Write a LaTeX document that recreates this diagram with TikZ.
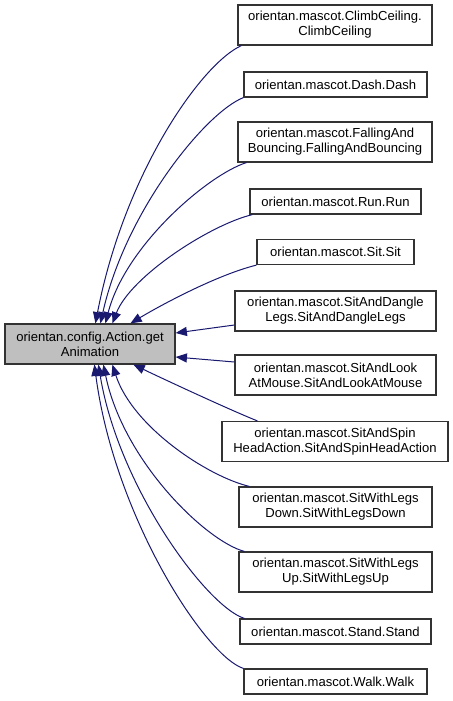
\documentclass[tikz,border=0pt]{standalone}
\usepackage{fontspec}
\setmainfont{Liberation Sans}
\usetikzlibrary{arrows.meta}
\definecolor{midnight}{HTML}{191970}
\begin{document}
\begin{tikzpicture}[x=0.75pt,y=-0.75pt,
  every node/.style={font=\fontsize{9.8pt}{11.3pt}\selectfont},
  cls/.style={draw=black!80,line width=0.9pt,fill=white,align=center,inner sep=0pt,minimum height=30pt},
  onecls/.style={cls,minimum height=18.75pt},
  edge/.style={midnight,line width=0.75pt,-{Triangle[length=8.5pt,width=6.8pt]}}]
\useasboundingbox (0,0) rectangle (453,701);
\node[cls,fill=black!25,minimum width=127.5pt] (main) at (90,344) {orientan.config.Action.get\\Animation};
\node[cls,minimum width=145.5pt] (cc) at (335,25) {orientan.mascot.ClimbCeiling.\\ClimbCeiling};
\node[onecls,minimum width=137.25pt] (dash) at (335.5,84.5) {orientan.mascot.Dash.Dash};
\node[cls,minimum width=145.5pt] (fab) at (335,142) {orientan.mascot.FallingAnd\\Bouncing.FallingAndBouncing};
\node[onecls,minimum width=128.25pt] (run) at (335.5,201.5) {orientan.mascot.Run.Run};
\node[onecls,minimum width=117.75pt] (sit) at (335.5,252) {orientan.mascot.Sit.Sit};
\node[cls,minimum width=150.75pt] (sadl) at (335.5,311) {orientan.mascot.SitAndDangle\\Legs.SitAndDangleLegs};
\node[cls,minimum width=150.75pt] (salam) at (335.5,375) {orientan.mascot.SitAndLook\\AtMouse.SitAndLookAtMouse};
\node[cls,minimum width=169.5pt] (sashd) at (335,441.5) {orientan.mascot.SitAndSpin\\HeadAction.SitAndSpinHeadAction};
\node[cls,minimum width=144.75pt] (swld) at (335.5,507) {orientan.mascot.SitWithLegs\\Down.SitWithLegsDown};
\node[cls,minimum width=144.75pt] (swlu) at (335.5,572) {orientan.mascot.SitWithLegs\\Up.SitWithLegsUp};
\node[onecls,minimum width=143.25pt] (stand) at (335.5,631.5) {orientan.mascot.Stand.Stand};
\node[onecls,minimum width=137.25pt] (walk) at (335.5,681.5) {orientan.mascot.Walk.Walk};
% edges into the top of main
\draw[edge] ([shift={(4,0)}]cc.south west) .. controls +(-40,18) and +(29,-150) .. ([shift={(91,0)}]main.north west);
\draw[edge] (dash.south west) .. controls +(-38,15) and +(25,-112) .. ([shift={(96,0)}]main.north west);
\draw[edge] ([shift={(9,0)}]fab.south west) .. controls +(-38,12) and +(20,-78) .. ([shift={(101,0)}]main.north west);
\draw[edge] ([shift={(3,0)}]run.south west) .. controls +(-42,10) and +(18,-47) .. ([shift={(108,0)}]main.north west);
\draw[edge] (sit.south west) .. controls +(-40,10) and +(30,-18) .. ([shift={(126,0)}]main.north west);
% edges into the side
\draw[edge] ([shift={(0,14)}]sadl.west) -- ([shift={(0,-11)}]main.east);
\draw[edge] ([shift={(0,-13)}]salam.west) -- ([shift={(0,13)}]main.east);
% edges into the bottom
\draw[edge] ([shift={(36,0)}]sashd.north west) .. controls +(-30,-12) and +(25,12) .. ([shift={(129,0)}]main.south west);
\draw[edge] ([shift={(11,0)}]swld.north west) .. controls +(-42,-10) and +(20,62) .. ([shift={(108,0)}]main.south west);
\draw[edge] ([shift={(6,0)}]swlu.north west) .. controls +(-38,-10) and +(20,97) .. ([shift={(99,0)}]main.south west);
\draw[edge] ([shift={(5,0)}]stand.north west) .. controls +(-38,-12) and +(20,122) .. ([shift={(94,0)}]main.south west);
\draw[edge] (walk.north west) .. controls +(-38,-12) and +(20,152) .. ([shift={(90,0)}]main.south west);
\end{tikzpicture}
\end{document}
